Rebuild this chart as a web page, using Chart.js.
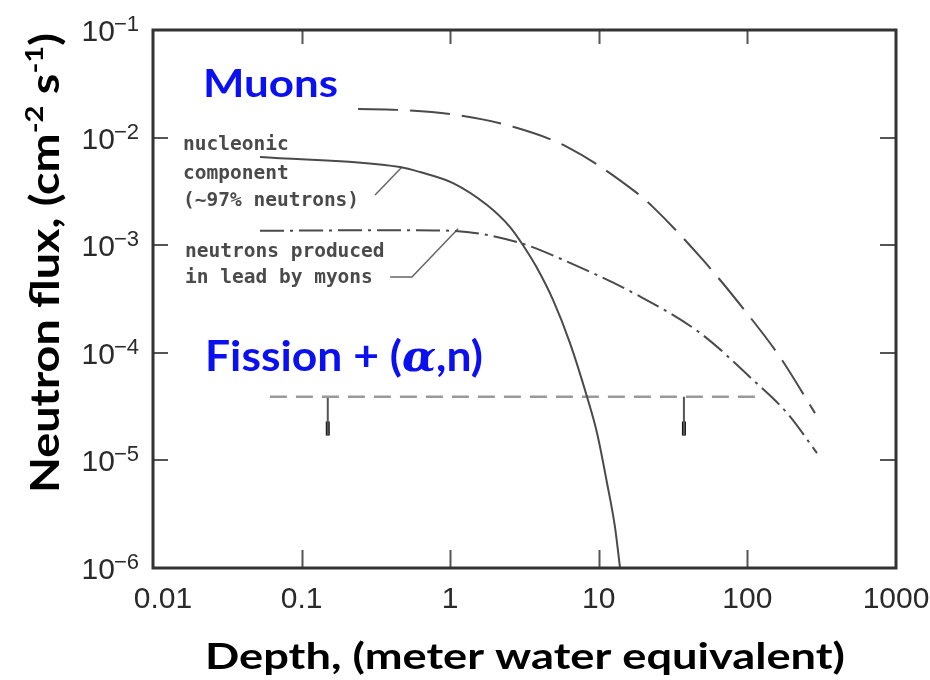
<!DOCTYPE html>
<html>
<head>
<meta charset="utf-8">
<script src="https://cdn.jsdelivr.net/npm/chart.js@4.4.1/dist/chart.umd.min.js"></script>
<style>
  html, body { margin: 0; padding: 0; background: #fff; }
  #wrap { width: 930px; height: 680px; }
</style>
</head>
<body>
<div id="wrap"><canvas id="fluxChart" width="930" height="680"></canvas></div>
<script>
// depth in metres water equivalent, flux in cm^-2 s^-1
const muonDepth = [0.24, 0.44, 1.11, 2.65, 6.11, 18.1, 23.2, 50.2, 93.3, 166, 285];
const muonFlux = [1.84e-2, 1.81e-2, 1.62e-2, 1.26e-2, 8.2e-3, 3.05e-3, 2.26e-3, 7.3e-4, 2.6e-4, 9.1e-5, 2.75e-5];

const nucleonDepth = [0.0525, 0.459, 0.626, 1.045, 1.77, 2.52, 3.09, 3.84, 4.92, 6.4, 8.33, 9.73, 11.35, 12.85, 13.9];
const nucleonFlux = [6.6e-3, 5.33e-3, 4.79e-3, 3.78e-3, 2.36e-3, 1.48e-3, 1.0e-3, 6.14e-4, 3.1e-4, 1.23e-4, 3.9e-5, 1.8e-5, 6.2e-6, 2.4e-6, 1e-6];

const leadDepth = [0.0525, 0.5, 1.05, 2.95, 6.4, 18.1, 48, 109, 185, 294];
const leadFlux = [1.36e-3, 1.38e-3, 1.36e-3, 1.05e-3, 6.84e-4, 3.45e-4, 1.53e-4, 5.6e-5, 2.75e-5, 1.17e-5];

// fission + (alpha,n) background level and its upper-limit arrows
const fissionDepth = [0.0612, 120];
const fissionFlux = [3.9e-5, 3.9e-5];
const arrowDepth = [0.15, 37.4];
const arrowTipTop = 2.3e-5;
const arrowTipEnd = 1.7e-5;

// leader lines from the labels to their curves
const nucleonLeaderDepth = [0.312, 0.474];
const nucleonLeaderFlux = [2.93e-3, 5.33e-3];
const leadLeaderDepth = [0.394, 0.553, 1.13];
const leadLeaderFlux = [5.06e-4, 5.06e-4, 1.42e-3];

const xTickValues = [0.01, 0.1, 1, 10, 100, 1000];
const xTickLabels = ['0.01', '0.1', '1', '10', '100', '1000'];
const yTickValues = [1e-1, 1e-2, 1e-3, 1e-4, 1e-5, 1e-6];
const yTickExponents = ['\u22121', '\u22122', '\u22123', '\u22124', '\u22125', '\u22126'];

const toPoints = (xs, ys) => xs.map((v, i) => ({ x: v, y: ys[i] }));

const CURVE = '#4a4a4a';
const BLUE = '#0a10f0';
const TICK_FONT = '"Liberation Sans", Arial, sans-serif';

// draws a list of text runs on one baseline, squeezed/stretched to a given width
function drawRuns(ctx, runs, x, y, width) {
    let total = 0;
    runs.forEach(r => { ctx.font = r.font; r.w = ctx.measureText(r.text).width; total += r.w; });
    const k = width / total;
    ctx.save();
    ctx.translate(x, y);
    ctx.scale(k, 1);
    let cx = 0;
    runs.forEach(r => {
        ctx.font = r.font;
        ctx.fillText(r.text, cx, r.dy || 0);
        cx += r.w;
    });
    ctx.restore();
}

const frameAndLabels = {
    id: 'frameAndLabels',
    afterDraw(chart) {
        const { ctx, chartArea: a, scales: { x, y } } = chart;
        ctx.save();

        // inward tick marks
        ctx.strokeStyle = '#555';
        ctx.lineWidth = 2;
        ctx.beginPath();
        yTickValues.forEach(v => {
            const py = Math.round(y.getPixelForValue(v));
            ctx.moveTo(a.left, py); ctx.lineTo(a.left + 15, py);
            ctx.moveTo(a.right, py); ctx.lineTo(a.right - 16, py);
        });
        xTickValues.slice(1, -1).forEach(v => {
            const px = Math.round(x.getPixelForValue(v)) + 0.5;
            ctx.moveTo(px, a.top); ctx.lineTo(px, a.top + 14);
            ctx.moveTo(px, a.bottom); ctx.lineTo(px, a.bottom - 18);
        });
        ctx.stroke();

        // plot frame
        ctx.strokeStyle = '#333';
        ctx.lineWidth = 3;
        ctx.strokeRect(a.left, a.top, a.right - a.left, a.bottom - a.top);

        // y tick labels: 10 with superscript exponent
        ctx.fillStyle = '#2a2a2a';
        ctx.textBaseline = 'alphabetic';
        yTickValues.forEach((v, i) => {
            const py = y.getPixelForValue(v);
            const right = a.left - 14;
            ctx.font = '22px ' + TICK_FONT;
            ctx.textAlign = 'right';
            const supW = ctx.measureText(yTickExponents[i]).width;
            ctx.fillText(yTickExponents[i], right, py + 1);
            ctx.font = '30px ' + TICK_FONT;
            ctx.fillText('10', right - supW + 1, py + 11);
        });

        // x tick labels
        ctx.font = '30px ' + TICK_FONT;
        ctx.textAlign = 'center';
        xTickValues.forEach((v, i) => {
            const px = x.getPixelForValue(v) + (i === 0 ? 10 : 0);
            ctx.fillText(xTickLabels[i], px, a.bottom + 40);
        });

        // small curve labels
        ctx.fillStyle = '#4a4a4a';
        ctx.textAlign = 'left';
        ctx.font = 'bold 19.5px "DejaVu Sans Mono", monospace';
        const lx = a.left + 30;
        ctx.fillText('nucleonic', lx, 150);
        ctx.fillText('component', lx, 179);
        ctx.fillText('(~97% neutrons)', lx, 206);
        ctx.fillText('neutrons produced', lx + 2, 257);
        ctx.fillText('in lead by myons', lx + 2, 283);

        // blue source labels
        ctx.fillStyle = BLUE;
        drawRuns(ctx, [{ text: 'Muons', font: 'bold 39px Lato, sans-serif' }], 203, 97, 135);
        drawRuns(ctx, [
            { text: 'Fission + (', font: 'bold 42px Lato, sans-serif' },
            { text: '\u03b1', font: 'bold italic 42px "DejaVu Serif", serif' },
            { text: ',n)', font: 'bold 42px Lato, sans-serif' }
        ], 205, 371, 278);

        // axis titles
        ctx.fillStyle = '#000';
        drawRuns(ctx, [{ text: 'Depth, (meter water equivalent)', font: 'bold 37px Lato, sans-serif' }], 205, 669, 640);

        ctx.save();
        ctx.translate(59, 493);
        ctx.rotate(-Math.PI / 2);
        drawRuns(ctx, [
            { text: 'Neutron flux, (cm', font: 'bold 40px Lato, sans-serif' },
            { text: '-2', font: 'bold 25px Lato, sans-serif', dy: -16 },
            { text: ' s', font: 'bold 40px Lato, sans-serif' },
            { text: '-1', font: 'bold 25px Lato, sans-serif', dy: -16 },
            { text: ')', font: 'bold 40px Lato, sans-serif' }
        ], 0, 0, 460);
        ctx.restore();

        ctx.restore();
    }
};

const line = (data, extra) => Object.assign({
    data: data,
    borderColor: CURVE,
    borderWidth: 2,
    pointRadius: 0,
    fill: false,
    tension: 0
}, extra);

const datasets = [
    line(toPoints(muonDepth, muonFlux), { label: 'Muons', borderDash: [40, 12], cubicInterpolationMode: 'monotone' }),
    line(toPoints(nucleonDepth, nucleonFlux), { label: 'nucleonic component', cubicInterpolationMode: 'monotone' }),
    line(toPoints(leadDepth, leadFlux), { label: 'neutrons produced in lead', borderDash: [24, 6, 3, 6], cubicInterpolationMode: 'monotone' }),
    line(toPoints(fissionDepth, fissionFlux), { label: 'Fission + (a,n)', borderColor: '#999', borderWidth: 2.5, borderDash: [17, 9] }),
    line(toPoints(nucleonLeaderDepth, nucleonLeaderFlux), { label: 'leader 1', borderColor: '#666', borderWidth: 1.5 }),
    line(toPoints(leadLeaderDepth, leadLeaderFlux), { label: 'leader 2', borderColor: '#666', borderWidth: 1.5 })
];
arrowDepth.forEach((d, i) => {
    datasets.push(line([{ x: d, y: fissionFlux[0] }, { x: d, y: arrowTipEnd }], { label: 'limit ' + i, borderColor: '#555', borderWidth: 2 }));
    datasets.push(line([{ x: d, y: arrowTipTop }, { x: d, y: arrowTipEnd }], { label: 'tip ' + i, borderColor: '#111', borderWidth: 4 }));
});

new Chart(document.getElementById('fluxChart'), {
    type: 'line',
    data: { datasets: datasets },
    options: {
        responsive: false,
        devicePixelRatio: 1,
        animation: false,
        layout: { padding: { top: 30, right: 34, left: 0, bottom: 0 } },
        plugins: { legend: { display: false }, tooltip: { enabled: false } },
        scales: {
            x: {
                type: 'logarithmic',
                min: 0.01,
                max: 1000,
                afterBuildTicks: (scale) => { scale.ticks = xTickValues.map(v => ({ value: v })); },
                afterFit: (scale) => { scale.height = 112; },
                ticks: { display: false },
                grid: { display: false },
                border: { display: false }
            },
            y: {
                type: 'logarithmic',
                min: 1e-6,
                max: 1e-1,
                afterBuildTicks: (scale) => { scale.ticks = yTickValues.map(v => ({ value: v })); },
                afterFit: (scale) => { scale.width = 153; },
                ticks: { display: false },
                grid: { display: false },
                border: { display: false }
            }
        }
    },
    plugins: [frameAndLabels]
});
</script>
</body>
</html>
